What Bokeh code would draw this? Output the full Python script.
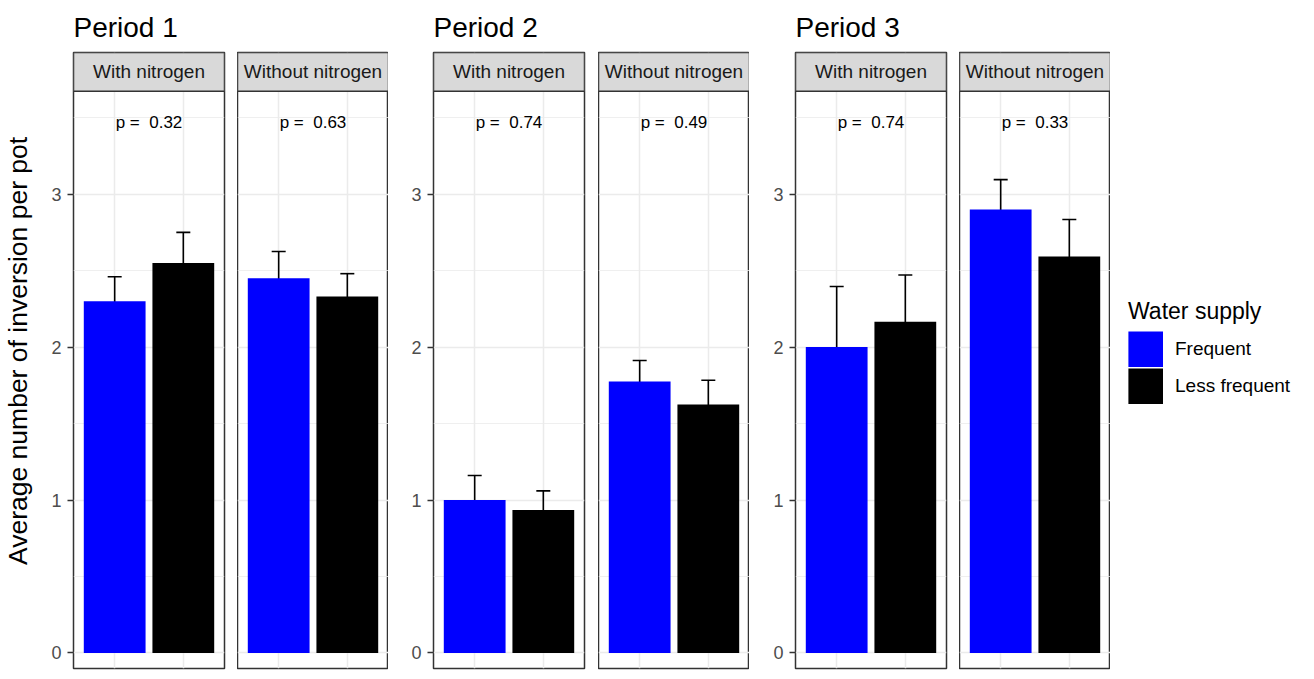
import math
from bokeh.plotting import figure
from bokeh.layouts import row
from bokeh.models import (ColumnDataSource, Range1d, FixedTicker, Whisker, TeeHead,
                          Legend, LegendItem, Grid, LinearAxis)
from bokeh.core.properties import value
from bokeh.embed import file_html
from bokeh.resources import INLINE

# ---------------- data ----------------
periods = ["Period 1", "Period 2", "Period 3"]
nitrogen = ["With nitrogen", "Without nitrogen"]
water = ["Frequent", "Less frequent"]
colors = ["#0000FF", "#000000"]
# panel order: P1-with, P1-without, P2-with, P2-without, P3-with, P3-without
mean_frequent = [2.30, 2.45, 1.00, 1.775, 2.00, 2.90]
se_frequent = [0.16, 0.175, 0.16, 0.137, 0.396, 0.195]
mean_less = [2.55, 2.33, 0.935, 1.625, 2.165, 2.593]
se_less = [0.20, 0.15, 0.125, 0.158, 0.306, 0.241]
p_values = ["0.32", "0.63", "0.74", "0.49", "0.74", "0.33"]
y_ticks = [0, 1, 2, 3]
y_minor = [0.5, 1.5, 2.5, 3.5]
y_label = "Average number of inversion per pot"
legend_title = "Water supply"

# ---------------- style / layout ----------------
FONT = "Liberation Sans"
Y1 = 3.926
Y0 = -0.1014
STRIP_BOTTOM = 3.672
X0, X1 = 0.4, 2.6
H = 670
TOP = 51
BORDER = "#333333"
GRID = "#EBEBEB"
LABEL_W = 36
LABEL_Y = 1.975   # vertical centre of the y-axis title, in axis units

x_pos = [k + 1 for k in range(len(water))]


def drop_grids(p):
    p.center = [r for r in p.center if not isinstance(r, Grid)]


def make_panel(idx, width, left, right, with_axis, title=None):
    p = figure(width=width, height=H, x_range=Range1d(X0, X1), y_range=Range1d(Y0, Y1),
               output_backend="svg", toolbar_location=None, title=title,
               x_axis_location=None, y_axis_location=None,
               min_border_left=left, min_border_right=right,
               min_border_top=TOP, min_border_bottom=2)
    drop_grids(p)
    p.background_fill_color = "white"
    p.border_fill_color = "white"
    p.outline_line_color = BORDER
    p.outline_line_width = 1.5
    if title is not None:
        p.title.text_font = FONT
        p.title.text_font_size = "28px"
        p.title.text_font_style = "normal"
        p.title.text_color = "black"
        p.title.align = "left"
        p.title.standoff = 19

    p.add_layout(Grid(dimension=0, ticker=FixedTicker(ticks=x_pos),
                      grid_line_color=GRID, grid_line_width=1.5))
    p.add_layout(Grid(dimension=1, ticker=FixedTicker(ticks=y_ticks, minor_ticks=y_minor),
                      grid_line_color=GRID, grid_line_width=1.5,
                      minor_grid_line_color=GRID, minor_grid_line_width=0.8))

    if with_axis:
        ax = LinearAxis(ticker=FixedTicker(ticks=y_ticks, minor_ticks=[]))
        ax.axis_line_color = None
        ax.major_tick_out = 6
        ax.major_tick_in = 0
        ax.major_tick_line_color = BORDER
        ax.major_tick_line_width = 1.5
        ax.minor_tick_line_color = None
        ax.major_label_text_font = FONT
        ax.major_label_text_font_size = "18px"
        ax.major_label_text_color = "#4D4D4D"
        ax.major_label_standoff = 6
        p.add_layout(ax, "left")

    src = ColumnDataSource(dict(
        x=x_pos,
        top=[mean_frequent[idx], mean_less[idx]],
        color=colors,
        upper=[mean_frequent[idx] + se_frequent[idx], mean_less[idx] + se_less[idx]],
        lower=[mean_frequent[idx] - se_frequent[idx], mean_less[idx] - se_less[idx]],
    ))
    p.vbar(x="x", top="top", bottom=0, width=0.9, fill_color="color",
           line_color=None, source=src)
    w = Whisker(source=src, base="x", upper="upper", lower="lower", dimension="height",
                line_color="black", line_width=1.6,
                upper_head=TeeHead(size=14, line_color="black", line_width=1.6),
                lower_head=TeeHead(size=14, line_color="black", line_width=1.6))
    p.add_layout(w)

    # facet strip
    p.quad(left=X0, right=X1, bottom=STRIP_BOTTOM, top=Y1, fill_color="#D9D9D9",
           line_color=BORDER, line_width=1.5)
    p.text(x=[(X0 + X1) / 2], y=[(STRIP_BOTTOM + Y1) / 2], text=[nitrogen[idx % 2]],
           text_align="center", text_baseline="middle", text_font=value(FONT),
           text_font_size="19px", text_color="#1A1A1A")
    # p-value
    p.text(x=[(X0 + X1) / 2], y=[3.47], text=["p = \u00a0" + p_values[idx]],
           text_align="center", text_baseline="middle", text_font=value(FONT),
           text_font_size="17px", text_color="black")
    return p


# y-axis title column
z = figure(width=LABEL_W, height=H, x_range=Range1d(0, LABEL_W), y_range=Range1d(Y0, Y1),
           output_backend="svg", toolbar_location=None, title=None,
           x_axis_location=None, y_axis_location=None,
           min_border_left=0, min_border_right=0, min_border_top=TOP, min_border_bottom=2)
drop_grids(z)
z.outline_line_color = None
z.background_fill_color = "white"
z.border_fill_color = "white"
z.text(x=[17], y=[LABEL_Y], text=[y_label], angle=math.pi / 2, text_align="center",
       text_baseline="middle", text_font=value(FONT), text_font_size="26.5px",
       text_color="black")

panels = [
    make_panel(0, 237 - LABEL_W, 73 - LABEL_W, 13, True, periods[0]),
    make_panel(1, 151, 0, 0, False),
    make_panel(2, 210, 45, 14, True, periods[1]),
    make_panel(3, 151, 0, 0, False),
    make_panel(4, 210, 46, 13, True, periods[2]),
    make_panel(5, 151, 0, 0, False),
]

# legend panel
g = figure(width=196, height=H, x_range=Range1d(0, 1), y_range=Range1d(0, 1),
           output_backend="svg", toolbar_location=None, title=None,
           x_axis_location=None, y_axis_location=None, min_border=0)
drop_grids(g)
g.outline_line_color = None
g.background_fill_color = "white"
g.border_fill_color = "white"
items = []
nan = float("nan")
for k in range(len(water)):
    # legend proxy bars (no drawable data; they only supply the legend swatch style)
    r = g.vbar(x=[nan], top=[nan], bottom=[nan], width=0.5, fill_color=colors[k],
               line_color=colors[k], line_width=7.2, line_join="miter")
    items.append(LegendItem(label=water[k], renderers=[r]))
legend = Legend(items=items, location=(18, 264), title=legend_title)
legend.title_text_font = FONT
legend.title_text_font_size = "23px"
legend.title_text_font_style = "normal"
legend.title_text_color = "black"
legend.title_standoff = 6
legend.label_text_font = FONT
legend.label_text_font_size = "19px"
legend.label_text_color = "black"
legend.label_standoff = 12
legend.glyph_width = 35
legend.glyph_height = 36
legend.spacing = 1
legend.padding = 0
legend.margin = 0
legend.border_line_color = None
legend.background_fill_alpha = 0
g.add_layout(legend)

layout = row(z, *panels, g)
open("out.html", "w").write(file_html(layout, INLINE))
